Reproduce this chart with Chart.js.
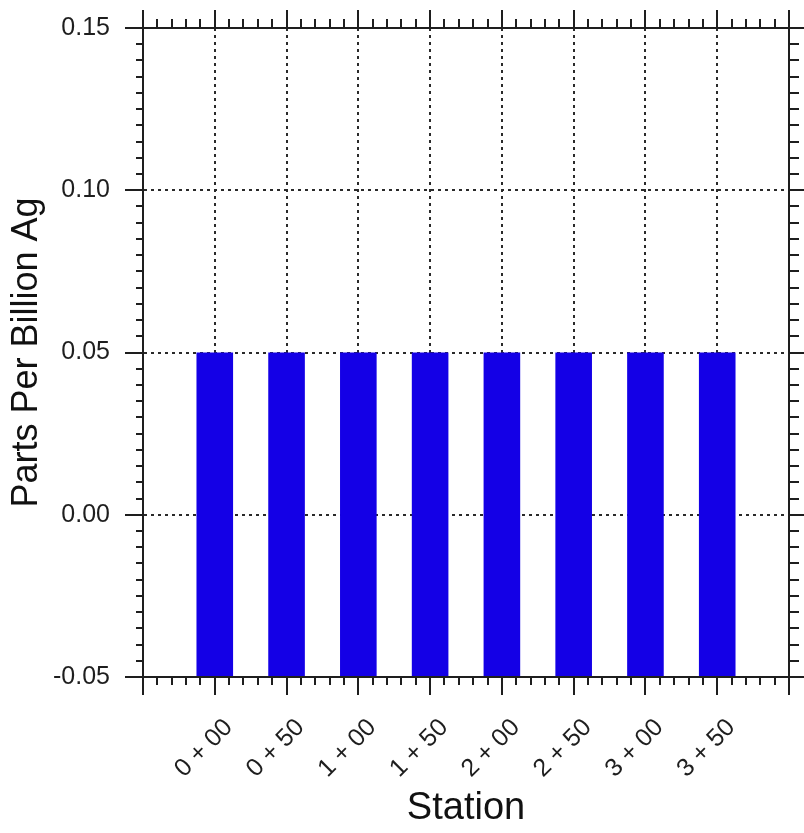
<!DOCTYPE html>
<html>
<head>
<meta charset="utf-8">
<script src="https://cdn.jsdelivr.net/npm/chart.js@4.4.0/dist/chart.umd.min.js"></script>
<style>
  html, body { margin: 0; padding: 0; background: #fff; }
  #wrap { width: 804px; height: 833px; position: relative; }
</style>
</head>
<body>
<div id="wrap"><canvas id="chart"></canvas></div>
<script>
// stations along the line and the Ag reading at each one
const stations = ['0 + 00', '0 + 50', '1 + 00', '1 + 50', '2 + 00', '2 + 50', '3 + 00', '3 + 50'];
const agPpb = [0.05, 0.05, 0.05, 0.05, 0.05, 0.05, 0.05, 0.05];
const yTickValues = [-0.05, 0.00, 0.05, 0.10, 0.15];
const yTickLabels = ['-0.05', '0.00', '0.05', '0.10', '0.15'];

// x runs one station past each end
const xMin = -1, xMax = stations.length;
const xTicks = [];
for (let i = xMin; i <= xMax; i++) xTicks.push(i);
const yMin = yTickValues[0], yMax = yTickValues[yTickValues.length - 1];
const yStep = 0.05;
const xMinorSteps = 5;
const yMinorSteps = 10;

const ink = '#1e1e1e';
const family = "'Liberation Sans', Arial, sans-serif";
const majorLen = 18;
const minorLen = 8;

function gridOpts(onArea) {
  return {
    display: true,
    drawOnChartArea: onArea,
    drawTicks: true,
    offset: false,
    color: '#2a2a2a',
    lineWidth: 2,
    tickColor: ink,
    tickWidth: 2,
    tickLength: majorLen,
    tickBorderDash: []
  };
}
const borderOpts = { display: true, color: ink, width: 2, dash: [3, 4] };

function xScale(pos, size, labelled) {
  return {
    type: 'linear',
    position: pos,
    min: xMin,
    max: xMax,
    offset: false,
    afterBuildTicks: s => { s.ticks = xTicks.map(v => ({ value: v })); },
    afterFit: s => {
      s.height = size;
      // rotated labels would otherwise eat into the plot width
      s.paddingLeft = 0;
      s.paddingRight = 0;
    },
    grid: gridOpts(labelled),
    border: borderOpts,
    ticks: {
      display: labelled,
      autoSkip: false,
      minRotation: 45,
      maxRotation: 45,
      padding: 18,
      labelOffset: 14,
      color: ink,
      font: { family, size: 25 },
      callback: v => stations[v] || ''
    },
    title: {
      display: labelled,
      text: 'Station',
      color: '#111',
      font: { family, size: 38 },
      padding: { top: 0, bottom: 2 }
    }
  };
}

function yScale(pos, size, labelled) {
  return {
    type: 'linear',
    position: pos,
    min: yMin,
    max: yMax,
    afterBuildTicks: s => { s.ticks = yTickValues.map(v => ({ value: v })); },
    afterFit: s => {
      s.width = size;
      s.paddingTop = 0;
      s.paddingBottom = 0;
    },
    grid: gridOpts(labelled),
    border: borderOpts,
    ticks: {
      display: labelled,
      padding: 15,
      color: ink,
      font: { family, size: 25 },
      callback: (v, i) => yTickLabels[i]
    },
    title: {
      display: labelled,
      text: 'Parts Per Billion Ag',
      color: '#111',
      font: { family, size: 36 },
      padding: { top: 5, bottom: 0 }
    }
  };
}

// small ticks between the major ones on all four sides
const minorTicks = {
  id: 'minorTicks',
  afterDraw(chart) {
    const { ctx, chartArea: a, scales } = chart;
    ctx.save();
    ctx.strokeStyle = ink;
    ctx.lineWidth = 2;
    ctx.beginPath();
    for (let i = xMin * xMinorSteps; i <= xMax * xMinorSteps; i++) {
      if (i % xMinorSteps === 0) continue;
      const px = Math.round(scales.x.getPixelForValue(i / xMinorSteps));
      ctx.moveTo(px, a.bottom); ctx.lineTo(px, a.bottom + minorLen);
      ctx.moveTo(px, a.top); ctx.lineTo(px, a.top - minorLen - 1);
    }
    const yFrom = Math.round(yMin / yStep * yMinorSteps);
    const yTo = Math.round(yMax / yStep * yMinorSteps);
    for (let i = yFrom; i <= yTo; i++) {
      if (i % yMinorSteps === 0) continue;
      const py = Math.round(scales.y.getPixelForValue(i * yStep / yMinorSteps));
      ctx.moveTo(a.left, py); ctx.lineTo(a.left - minorLen + 1, py);
      ctx.moveTo(a.right, py); ctx.lineTo(a.right + minorLen + 2, py);
    }
    ctx.stroke();
    ctx.restore();
  }
};

new Chart(document.getElementById('chart'), {
  type: 'bar',
  data: {
    datasets: [{
      data: stations.map((s, i) => ({ x: i, y: agPpb[i] })),
      base: yMin,
      backgroundColor: '#1400e6',
      borderWidth: 0,
      barPercentage: 0.51,
      categoryPercentage: 1
    }]
  },
  options: {
    responsive: true,
    maintainAspectRatio: false,
    animation: false,
    layout: { padding: 0 },
    plugins: { legend: { display: false }, tooltip: { enabled: false } },
    scales: {
      x: xScale('bottom', 156, true),
      x2: xScale('top', 28, false),
      y: yScale('left', 143, true),
      y2: yScale('right', 15, false)
    }
  },
  plugins: [minorTicks]
});
</script>
</body>
</html>
